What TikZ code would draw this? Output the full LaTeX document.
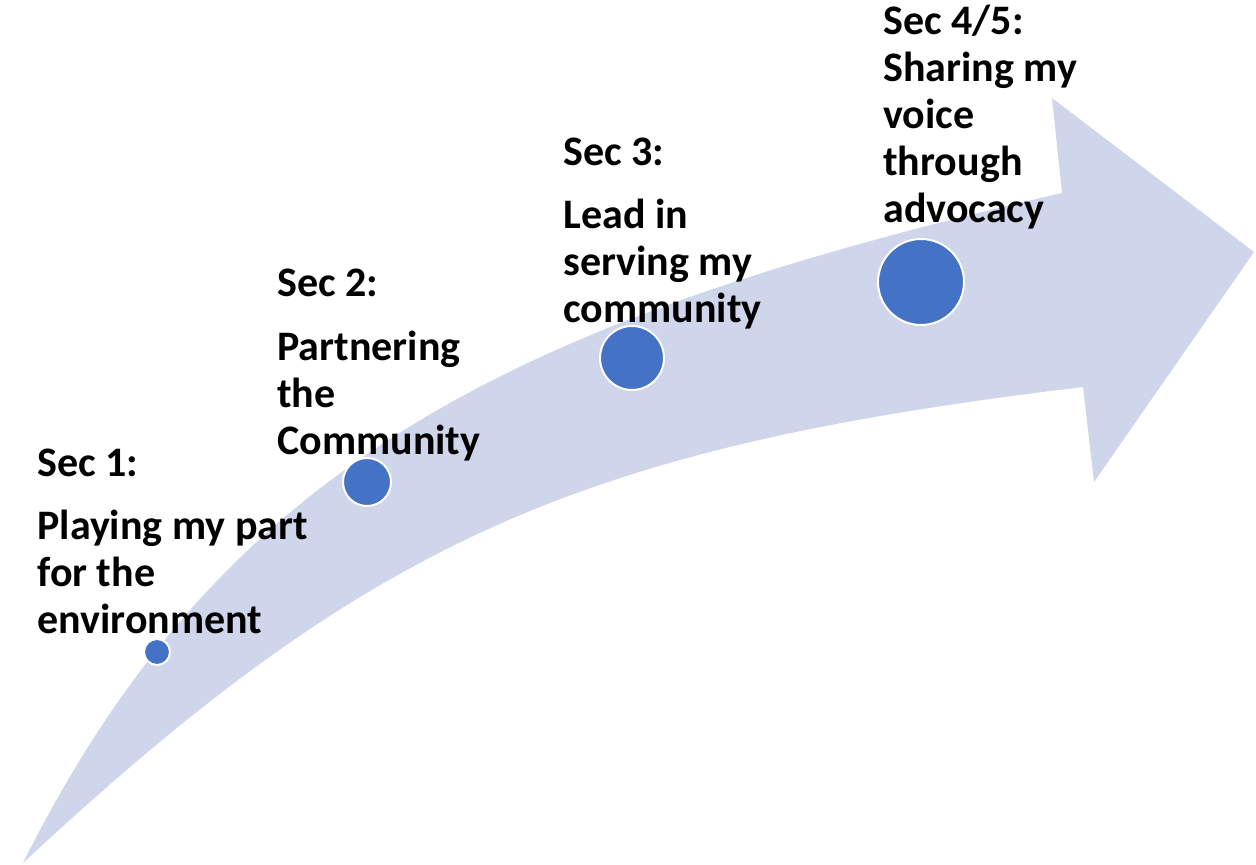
\documentclass[tikz,border=0pt]{standalone}
\usepackage{fontspec}
\setmainfont{Carlito}
\definecolor{bandcol}{HTML}{CFD5EA}
\definecolor{dotcol}{HTML}{4472C4}
\begin{document}
\begin{tikzpicture}[x=0.5pt,y=-0.5pt,
  band/.style={fill=bandcol, draw=none},
  dot/.style={circle, fill=dotcol, draw=white, line width=1pt, inner sep=0pt},
  lbl/.style={anchor=base west, align=left, inner sep=0pt, font=\bfseries\fontsize{21}{23.5}\selectfont}]
\useasboundingbox (0,0) rectangle (1256,865);
\coordinate (tail) at (23,863);
\coordinate (headin1) at (1062,193);
\coordinate (headtop) at (1052,98);
\coordinate (tip) at (1254,252);
\coordinate (headbot) at (1094,482);
\coordinate (headin2) at (1083,387);
\fill[band] (tail) .. controls (223,463) and (512,320) .. (headin1) -- (headtop) -- (tip) -- (headbot) -- (headin2) .. controls (583,447) and (373,537) .. (tail) -- cycle;
\node[dot, minimum size=13pt] (d1) at (157,652) {};
\node[dot, minimum size=24pt] (d2) at (367,482) {};
\node[dot, minimum size=32pt] (d3) at (632,358) {};
\node[dot, minimum size=43pt] (d4) at (921,282) {};
\node[lbl] (s1) at (37,633) {Sec 1:\\[8pt]Playing my part\\for the\\environment};
\node[lbl] (s2) at (277,454) {Sec 2:\\[8pt]Partnering\\the\\Community};
\node[lbl] (s3) at (563,323) {Sec 3:\\[8pt]Lead in\\serving my\\community};
\node[lbl] (s4) at (883,223) {Sec 4/5:\\Sharing my\\voice\\through\\advocacy};
\end{tikzpicture}
\end{document}
